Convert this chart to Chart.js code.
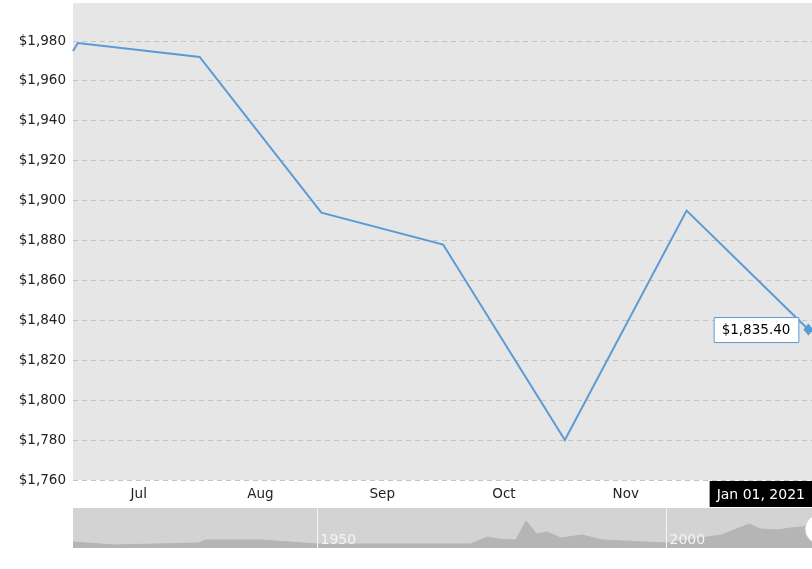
<!DOCTYPE html>
<html><head><meta charset="utf-8">
<script src="https://cdn.jsdelivr.net/npm/chart.js@4"></script>
<style>
body{margin:0;background:#fff;font-family:"DejaVu Sans",Verdana,sans-serif;overflow:hidden;}
#main{position:absolute;left:0;top:-12px;width:812px;height:519px;}
#nav{position:absolute;left:73px;top:508px;width:739px;height:40px;}
</style></head><body>
<div id="main"><canvas id="c"></canvas></div>
<div id="nav"><canvas id="n"></canvas></div>
<script>
const months = ["Jul","Aug","Sep","Oct","Nov"];
const pointIdx = [-0.04, 0, 1, 2, 3, 4, 5, 6];
const prices = [1975, 1979, 1972, 1894, 1878, 1780, 1895, 1835.4];
const yTicks = [1760,1780,1800,1820,1840,1860,1880,1900,1920,1940,1960,1980];
const crossLabel = "Jan 01, 2021";
const navYears = [1915,1921,1933,1934,1942,1950,1972,1974.5,1976,1978.5,1980,1981.5,1983,1985,1988,1991,2000,2003,2008,2012,2013.6,2016,2018,2021];
const navVals = [6,3,5,8,8,4,4,11,9,8,27,14,16,10,13,8,5,8,13,24,19,18,20,22];
const navLabels = [1950, 2000];

const fmt = v => "$" + v.toLocaleString("en-US",{minimumFractionDigits:0});
const font = {family:"DejaVu Sans", size:13.5};

const overlay = {
  id:"overlay",
  beforeDraw(ch){
    const {ctx, chartArea:a} = ch;
    ctx.save(); ctx.fillStyle="#e6e6e6"; ctx.fillRect(a.left,a.top,a.right-a.left,a.bottom-a.top); ctx.restore();
  },
  afterDraw(ch){
    const {ctx, chartArea:a} = ch;
    const x = ch.scales.x, y = ch.scales.y;
    const last = prices.length-1;
    const px = x.getPixelForValue(pointIdx[last]), py = y.getPixelForValue(prices[last]);
    ctx.save();
    const txt = "$" + prices[last].toLocaleString("en-US",{minimumFractionDigits:2});
    ctx.font = "13.5px DejaVu Sans";
    const w = ctx.measureText(txt).width + 16, h = 25;
    const bx = px - 10 - w, by = py - h/2;
    ctx.fillStyle="#fff"; ctx.strokeStyle="#5b9bd5"; ctx.lineWidth=1;
    ctx.beginPath(); ctx.rect(bx+0.5,by+0.5,w,h); ctx.fill(); ctx.stroke();
    ctx.fillStyle="#000"; ctx.textBaseline="middle"; ctx.textAlign="left";
    ctx.fillText(txt, bx+8, py+1);
    ctx.fillStyle="#5b9bd5";
    ctx.beginPath(); ctx.moveTo(px-5,py); ctx.lineTo(px,py-6); ctx.lineTo(px+5,py); ctx.lineTo(px,py+6); ctx.closePath(); ctx.fill();
    ctx.font = "14px DejaVu Sans";
    const lw = ctx.measureText(crossLabel).width + 14;
    ctx.fillStyle="#000"; ctx.fillRect(812-lw, a.bottom+1, lw, 27);
    ctx.fillStyle="#fff"; ctx.textAlign="center";
    ctx.fillText(crossLabel, 812-lw/2, a.bottom+15);
    ctx.restore();
  }
};

new Chart(document.getElementById("c"), {
  type:"line",
  data:{datasets:[{data:pointIdx.map((v,i)=>({x:v,y:prices[i]})), borderColor:"#5b9bd5", borderWidth:2, pointRadius:0, tension:0, clip:false}]},
  options:{
    responsive:true, maintainAspectRatio:false, animation:false,
    layout:{padding:{top:3,right:0,left:0,bottom:0}},
    plugins:{legend:{display:false}, tooltip:{enabled:false}},
    scales:{
      x:{type:"linear", min:-0.04, max:6.03,
        afterBuildTicks(s){ s.ticks = months.map((m,i)=>({value:i+0.5})); },
        afterFit(s){ s.height = 27; },
        ticks:{callback:(v)=>months[Math.round(v-0.5)], color:"#222", font, maxRotation:0, autoSkip:false, padding:6},
        grid:{display:false, drawTicks:false}, border:{display:false}},
      y:{min:1760, max:1999,
        afterBuildTicks(s){ s.ticks = yTicks.map(v=>({value:v})); },
        afterFit(s){ s.width = 73; },
        ticks:{callback:v=>fmt(v), color:"#222", font, padding:7},
        grid:{color:"#c4c4c4", drawTicks:false, tickLength:0},
        border:{display:false, dash:[5,4]}}
    }
  },
  plugins:[overlay]
});

const navDeco = {
  id:"navDeco",
  beforeDraw(ch){
    const {ctx, chartArea:a} = ch;
    ctx.save(); ctx.fillStyle="#d3d3d3"; ctx.fillRect(a.left,a.top,a.right-a.left,a.bottom-a.top); ctx.restore();
  },
  afterDraw(ch){
    const {ctx, chartArea:a} = ch; const x = ch.scales.x;
    ctx.save();
    ctx.strokeStyle="#f4f4f4"; ctx.fillStyle="#f4f4f4"; ctx.lineWidth=1;
    ctx.font="14px DejaVu Sans"; ctx.textBaseline="bottom";
    navLabels.forEach(yr=>{
      const px = Math.round(x.getPixelForValue(yr))+0.5;
      ctx.beginPath(); ctx.moveTo(px,a.top); ctx.lineTo(px,a.bottom); ctx.stroke();
      ctx.fillText(String(yr), px+3, a.bottom-1);
    });
    ctx.fillStyle="#fff"; ctx.strokeStyle="#ccc";
    ctx.beginPath(); ctx.arc(a.right+8, a.top+21, 15, 0, Math.PI*2); ctx.fill(); ctx.stroke();
    ctx.restore();
  }
};
new Chart(document.getElementById("n"), {
  type:"line",
  data:{datasets:[{data:navYears.map((v,i)=>({x:v,y:navVals[i]})), borderColor:"#b5b5b5", backgroundColor:"#b5b5b5", borderWidth:1, fill:"origin", pointRadius:0, tension:0}]},
  options:{
    responsive:true, maintainAspectRatio:false, animation:false,
    layout:{padding:0},
    plugins:{legend:{display:false}, tooltip:{enabled:false}},
    scales:{
      x:{type:"linear", min:1915, max:2021, display:false},
      y:{min:0, max:40, display:false}
    }
  },
  plugins:[navDeco]
});
</script>
</body></html>
